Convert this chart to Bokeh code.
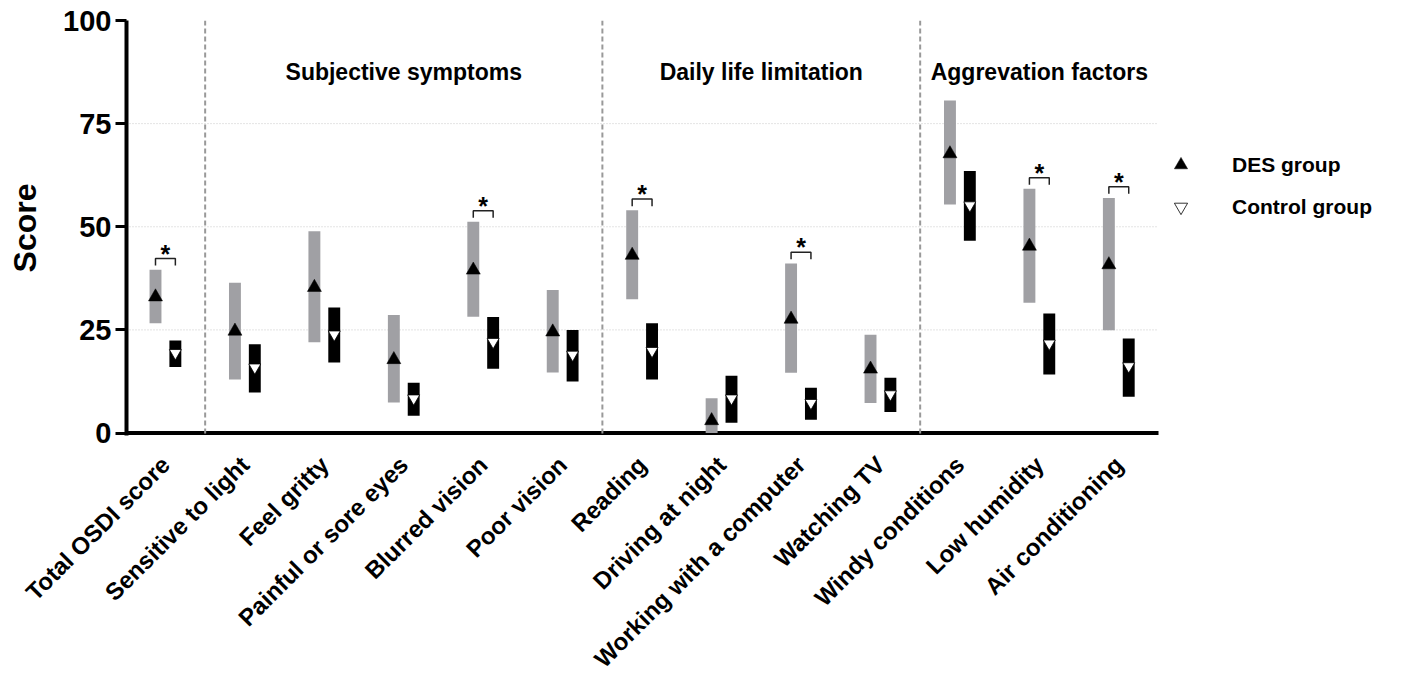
import math
from bokeh.plotting import figure
from bokeh.models import (ColumnDataSource, FixedTicker, Label, Span, Legend,
                          LegendItem)
from bokeh.core.properties import value
from bokeh.embed import file_html
from bokeh.resources import INLINE

# ---------------- data ----------------
categories = ["Total OSDI score", "Sensitive to light", "Feel gritty",
              "Painful or sore eyes", "Blurred vision", "Poor vision",
              "Reading", "Driving at night", "Working with a computer",
              "Watching TV", "Windy conditions", "Low humidity",
              "Air conditioning"]

des_low  = [26.6, 13.0, 22.0, 7.4, 28.2, 14.7, 32.4, 0.0, 14.6, 7.3, 55.4, 31.6, 24.9]
des_high = [39.6, 36.4, 48.9, 28.6, 51.2, 34.7, 54.0, 8.4, 41.1, 23.8, 80.6, 59.2, 57.0]
des_mid  = [33.0, 24.7, 35.3, 17.8, 39.5, 24.5, 43.1, 3.0, 27.6, 15.5, 67.7, 45.3, 40.8]

ctl_low  = [16.0, 9.8, 17.1, 4.2, 15.6, 12.5, 13.0, 2.5, 3.2, 5.1, 46.6, 14.2, 8.8]
ctl_high = [22.4, 21.5, 30.4, 12.2, 28.1, 25.0, 26.6, 13.9, 11.0, 13.4, 63.5, 29.0, 22.9]
ctl_mid  = [19.4, 15.9, 23.9, 8.4, 22.1, 19.0, 19.9, 8.4, 7.3, 9.4, 55.2, 21.7, 16.2]

significant = [True, False, False, False, True, False, True, False, True,
               False, False, True, True]

group_names = ["Subjective symptoms", "Daily life limitation", "Aggrevation factors"]
group_first = [1, 6, 10]
group_last = [5, 9, 12]

y_ticks = [0, 25, 50, 75, 100]
series_names = ["DES group", "Control group"]

# ---------------- styling ----------------
FONT = "Liberation Sans"
GRAY = "#a0a0a4"
OFF = 0.125
BAR_W = 0.15
X0 = -0.49
X_AXIS_END = len(categories) - 0.5
X_FRAME_END = 15.42   # frame continues to the right to host the legend

idx = list(range(len(categories)))

p = figure(width=1398, height=688, x_range=(X0, X_FRAME_END),
           y_range=(-0.6, 100),
           output_backend="svg", toolbar_location=None,
           min_border_left=126, min_border_right=8,
           min_border_top=20, min_border_bottom=253)
p.outline_line_color = None
p.background_fill_color = "white"
p.border_fill_color = "white"
p.xgrid.visible = False
p.ygrid.visible = False

# horizontal dotted grid lines (stop at the end of the x axis)
grid_vals = [t for t in y_ticks if 0 < t < 100]
p.segment(x0=[X0] * len(grid_vals), x1=[X_AXIS_END] * len(grid_vals),
          y0=grid_vals, y1=grid_vals, line_color="#c8c8c8", line_width=1,
          line_dash="1 2")

# y axis
p.yaxis.ticker = FixedTicker(ticks=y_ticks)
p.yaxis.axis_line_width = 4
p.yaxis.axis_line_color = "black"
p.yaxis.major_tick_line_width = 3
p.yaxis.major_tick_out = 11
p.yaxis.major_tick_in = 0
p.yaxis.minor_tick_line_color = None
p.yaxis.major_label_text_font = FONT
p.yaxis.major_label_text_font_style = "bold"
p.yaxis.major_label_text_font_size = "29px"
p.yaxis.major_label_text_color = "black"
p.yaxis.major_label_standoff = 4
p.yaxis.axis_label = "Score"
p.yaxis.axis_label_text_font = FONT
p.yaxis.axis_label_text_font_style = "bold"
p.yaxis.axis_label_text_font_size = "32px"
p.yaxis.axis_label_text_color = "black"
p.yaxis.axis_label_standoff = 17

# x axis (labels only; line drawn as a glyph so it stops at the last category)
p.xaxis.ticker = FixedTicker(ticks=idx)
p.xaxis.major_label_overrides = {i: c for i, c in zip(idx, categories)}
p.xaxis.major_label_orientation = math.pi / 4
p.xaxis.axis_line_color = None
p.xaxis.major_tick_line_color = None
p.xaxis.minor_tick_line_color = None
p.xaxis.major_label_text_font = FONT
p.xaxis.major_label_text_font_style = "bold"
p.xaxis.major_label_text_font_size = "24px"
p.xaxis.major_label_text_color = "black"
p.xaxis.major_label_standoff = 19
p.segment(x0=[X0], x1=[X_AXIS_END], y0=[0], y1=[0], line_color="black",
          line_width=4)

# group dividers
for first in group_first:
    p.add_layout(Span(location=first - 0.5, dimension="height",
                      line_color="#999999", line_width=2, line_dash="5 3"))

# group titles
for name, a, b in zip(group_names, group_first, group_last):
    p.add_layout(Label(x=(a + b) / 2, y=87.6, text=name, text_align="center",
                       text_baseline="middle", text_font=FONT,
                       text_font_style="bold", text_font_size="23px",
                       text_color="black"))

# bars
des_src = ColumnDataSource(dict(x=[i - OFF for i in idx], low=des_low,
                                high=des_high, mid=des_mid))
ctl_src = ColumnDataSource(dict(x=[i + OFF for i in idx], low=ctl_low,
                                high=ctl_high, mid=ctl_mid))

p.vbar(x="x", bottom="low", top="high", width=BAR_W, source=des_src,
       fill_color=GRAY, line_color=None)
p.vbar(x="x", bottom="low", top="high", width=BAR_W, source=ctl_src,
       fill_color="black", line_color=None)

r_des = p.scatter(x="x", y="mid", source=des_src, marker="triangle", size=14,
                  fill_color="black", line_color="black", line_width=0.5)
r_ctl = p.scatter(x="x", y="mid", source=ctl_src, marker="inverted_triangle",
                  size=12, fill_color="white", line_color="black",
                  line_width=0.8)

# significance brackets
bx, by, sx, sy = [], [], [], []
for i, s in enumerate(significant):
    if s:
        top = max(des_high[i], ctl_high[i]) + 2.7
        x0, x1 = i - OFF, i + OFF
        bx.append([x0, x0, x1, x1])
        by.append([top - 1.7, top, top, top - 1.7])
        sx.append(i)
        sy.append(top)
p.multi_line(xs=bx, ys=by, line_color="#222222", line_width=1.5)
p.text(x=sx, y=sy, text=["*"] * len(sx), text_align="center",
       text_baseline="alphabetic", y_offset=-5, text_font=value(FONT),
       text_font_style="bold", text_font_size="25px", text_color="black")

# legend (to the right of the axes)
legend = Legend(items=[LegendItem(label=series_names[0], renderers=[r_des], index=0),
                       LegendItem(label=series_names[1], renderers=[r_ctl], index=0)],
                location=(1038, 212), orientation="vertical",
                padding=0, margin=0, spacing=9,
                glyph_width=33, glyph_height=33, label_height=33,
                label_standoff=35,
                label_text_font=FONT, label_text_font_style="bold",
                label_text_font_size="21px", label_text_color="black",
                border_line_color=None, background_fill_alpha=0)
p.add_layout(legend, "center")

open("out.html", "w").write(file_html(p, INLINE))
